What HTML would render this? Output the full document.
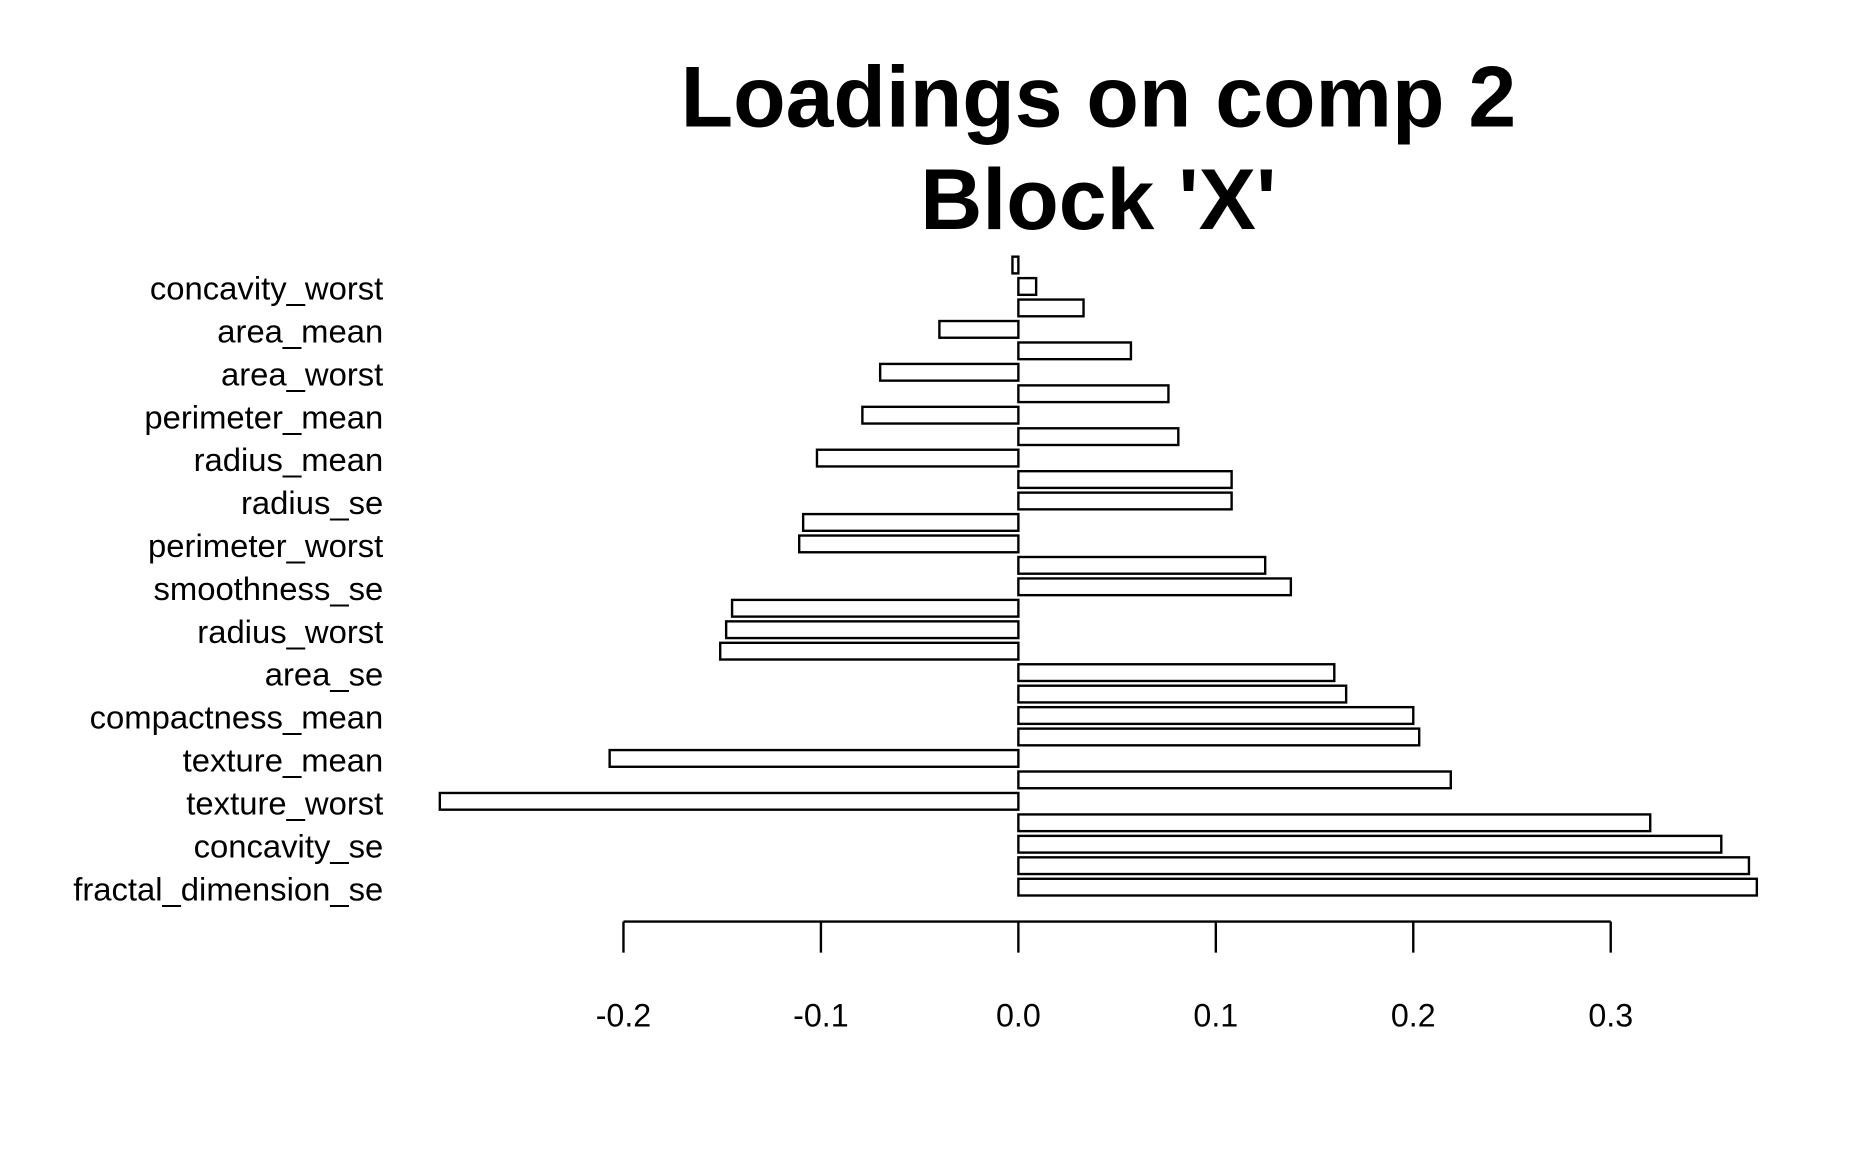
<!DOCTYPE html>
<html><head><meta charset="utf-8"><style>
html,body{margin:0;padding:0;background:#fff}
svg{display:block}
text{font-family:"Liberation Sans",Arial,sans-serif;fill:#000}
</style></head><body>
<svg id="chart" width="1872" height="1152" viewBox="0 0 1568 965" xmlns="http://www.w3.org/2000/svg">
<text x="920" y="106" font-size="72" font-weight="bold" text-anchor="middle">Loadings on comp 2</text>
<text x="920" y="192" font-size="72" font-weight="bold" text-anchor="middle">Block 'X'</text>
<g id="bars"></g>
<g id="ylabels"></g>
<g id="xaxis"></g>
</svg>
<script>
const categories = ["smoothness_worst","concavity_worst","symmetry_se","area_mean","fractal_dimension_mean","area_worst","texture_se","perimeter_mean","symmetry_worst","radius_mean","concave_points_se","radius_se","perimeter_se","perimeter_worst","smoothness_mean","smoothness_se","concave_points_mean","radius_worst","concave_points_worst","area_se","symmetry_mean","compactness_mean","concavity_mean","texture_mean","compactness_worst","texture_worst","fractal_dimension_worst","concavity_se","compactness_se","fractal_dimension_se"];
const values = [-0.003,0.009,0.033,-0.040,0.057,-0.070,0.076,-0.079,0.081,-0.102,0.108,0.108,-0.109,-0.111,0.125,0.138,-0.145,-0.148,-0.151,0.160,0.166,0.200,0.203,-0.207,0.219,-0.293,0.320,0.356,0.370,0.374];
const showLabel = [false,true,false,true,false,true,false,true,false,true,false,true,false,true,false,true,false,true,false,true,false,true,false,true,false,true,false,true,false,true];
const xTicks = [-0.2,-0.1,0.0,0.1,0.2,0.3];
const xTickLabels = ["-0.2","-0.1","0.0","0.1","0.2","0.3"];

const NS="http://www.w3.org/2000/svg";
function xScale(v){return 853+v*1654;}
function yCenter(i){return 222+i*17.97;}
const barH=14;
const bars=document.getElementById('bars');
const yl=document.getElementById('ylabels');
values.forEach((v,i)=>{
  const r=document.createElementNS(NS,'rect');
  const x0=Math.min(xScale(0),xScale(v)), w=Math.abs(xScale(v)-xScale(0));
  r.setAttribute('x',x0);r.setAttribute('y',yCenter(i)-barH/2);
  r.setAttribute('width',Math.max(w,0.5));r.setAttribute('height',barH);
  r.setAttribute('fill','#fff');r.setAttribute('stroke','#000');r.setAttribute('stroke-width','2');
  
  
  bars.appendChild(r);
  if(showLabel[i]){
    const t=document.createElementNS(NS,'text');
    t.setAttribute('x',321);t.setAttribute('y',yCenter(i)+11);
    t.setAttribute('font-size','27.5');t.setAttribute('text-anchor','end');
    t.textContent=categories[i];
    
    
    yl.appendChild(t);
  }
});
const xa=document.getElementById('xaxis');
const line=document.createElementNS(NS,'line');
line.setAttribute('x1',xScale(xTicks[0]));line.setAttribute('x2',xScale(xTicks[xTicks.length-1]));
line.setAttribute('y1',772);line.setAttribute('y2',772);
line.setAttribute('stroke','#000');line.setAttribute('stroke-width','2');


xa.appendChild(line);
xTicks.forEach((v,i)=>{
  const tk=document.createElementNS(NS,'line');
  tk.setAttribute('x1',xScale(v));tk.setAttribute('x2',xScale(v));
  tk.setAttribute('y1',772);tk.setAttribute('y2',798);
  tk.setAttribute('stroke','#000');tk.setAttribute('stroke-width','2');
  
  
  xa.appendChild(tk);
  const t=document.createElementNS(NS,'text');
  t.setAttribute('x',xScale(v));t.setAttribute('y',860);
  t.setAttribute('font-size','27');t.setAttribute('text-anchor','middle');
  t.textContent=xTickLabels[i];
  
  
  xa.appendChild(t);
});
</script>
</body></html>
